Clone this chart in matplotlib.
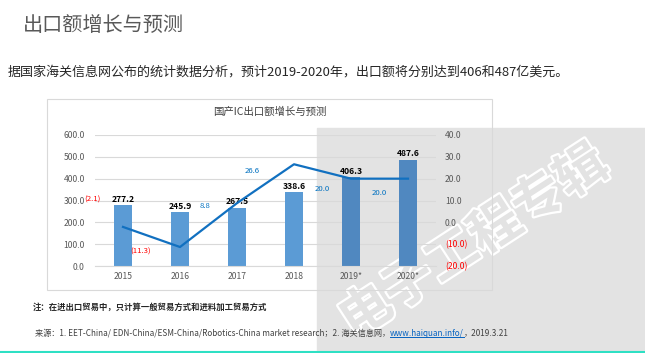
import matplotlib
matplotlib.use("Agg")
import matplotlib.pyplot as plt
from matplotlib.patches import Rectangle
from matplotlib.lines import Line2D
import matplotlib.patheffects as pe

plt.rcParams['font.family'] = ['Noto Sans CJK SC', 'DejaVu Sans']

# 数据
years = ['2015', '2016', '2017', '2018', '2019*', '2020*']
export_vals = [277.2, 245.9, 267.5, 338.6, 406.3, 487.6]
growth = [-2.1, -11.3, 8.8, 26.6, 20.0, 20.0]
growth_txt = ['(2.1)', '(11.3)', '8.8', '26.6', '20.0', '20.0']
# 增长率标签的位置（相对类别的偏移，右轴数值）
lbl_dx = [-0.54, -0.70, -0.56, -0.74, -0.51, -0.51]
lbl_y = [10.2, -13.6, 7.5, 23.5, 15.3, 13.4]
left_ticks = [0, 100, 200, 300, 400, 500, 600]
right_ticks = [-20, -10, 0, 10, 20, 30, 40]

W, H = 645, 353
fig = plt.figure(figsize=(W / 100, H / 100), dpi=100)


def px(x0, y0, x1, y1):
    # 像素坐标 -> figure坐标
    return [x0 / W, 1 - y1 / H, (x1 - x0) / W, (y1 - y0) / H]


# 灰色背景区 + 水印
bg = Rectangle((317 / W, 0), 1 - 317 / W, 1 - 128 / H, transform=fig.transFigure,
               color='#e3e3e3', zorder=-3)
fig.patches.append(bg)
wm = fig.text(474 / W, 1 - 242 / H, '电子工程专辑', fontsize=37, fontweight='bold',
              color='#e3e3e3', rotation=33, ha='center', va='center', zorder=-2,
              path_effects=[pe.Stroke(linewidth=3.2, foreground='white'), pe.Normal()])
wm.set_clip_path(bg)

# 图表外框
fig.patches.append(Rectangle((47 / W, 1 - 290 / H), (492 - 47) / W, (290 - 99) / H,
                             transform=fig.transFigure, fill=False, ec='#d9d9d9',
                             lw=0.8, zorder=-1))

# 标题和说明
fig.text(23 / W, 1 - 25 / H, '出口额增长与预测', fontsize=14.5, color='#595959', va='center')
fig.text(8 / W, 1 - 72 / H, '据国家海关信息网公布的统计数据分析，预计2019-2020年，出口额将分别达到406和487亿美元。',
         fontsize=9.4, color='#262626', va='center')
fig.text(33 / W, 1 - 307 / H, '注：在进出口贸易中，只计算一般贸易方式和进料加工贸易方式',
         fontsize=6, fontweight='bold', color='#262626', va='center')

ax = fig.add_axes(px(94.5, 135, 436.5, 266))
ax.set_facecolor('none')
x = range(len(years))
colors = ['#5b9bd5'] * 4 + ['#5088c0'] * 2
ax.bar(x, export_vals, width=0.32, color=colors, zorder=2)
for i, v in enumerate(export_vals):
    ax.text(i, v + 6, f'{v:.1f}', ha='center', va='bottom', fontsize=6.2,
            fontweight='bold', color='#000000', zorder=4)
ax.set_xlim(-0.5, len(years) - 0.5)
ax.set_ylim(0, 600)
ax.set_yticks(left_ticks)
ax.set_yticklabels([f'{t:.1f}' for t in left_ticks])
ax.set_xticks(list(x))
ax.set_xticklabels(years)
ax.grid(axis='y', color='#d9d9d9', lw=0.8, zorder=0)
ax.set_axisbelow(True)
for s in ['top', 'left', 'right']:
    ax.spines[s].set_visible(False)
ax.spines['bottom'].set_color('#d9d9d9')
ax.tick_params(axis='y', length=0, pad=7, labelsize=6.2, labelcolor='#595959')
ax.tick_params(axis='x', length=0, pad=4, labelsize=6.2, labelcolor='#595959')

ax2 = ax.twinx()
ax2.set_ylim(-20, 40)
ax2.set_yticks(right_ticks)
ax2.set_yticklabels([f'({abs(t):.1f})' if t < 0 else f'{t:.1f}' for t in right_ticks])
for t, lab in zip(right_ticks, ax2.get_yticklabels()):
    lab.set_color('#ff0000' if t < 0 else '#595959')
for s in ax2.spines.values():
    s.set_visible(False)
ax2.tick_params(axis='y', length=0, pad=6, labelsize=6.2)
ax2.plot(list(x), growth, color='#1170c0', lw=1.6, zorder=3)
for i, t in enumerate(growth_txt):
    ax2.text(i + lbl_dx[i], lbl_y[i], t, ha='center', va='center', fontsize=5.6,
             color='#ff0000' if growth[i] < 0 else '#0070c0')

fig.text(270 / W, 1 - 112 / H, '国产IC出口额增长与预测', fontsize=7.5, color='#404040',
         ha='center', va='center')

# 来源行（分段绘制，网址带下划线）
parts = [('来源：1. EET-China/ EDN-China/ESM-China/Robotics-China market research；2. 海关信息网，', '#404040', False),
         ('www.haiquan.info/', '#0563c1', True),
         ('，2019.3.21', '#404040', False)]
fig.canvas.draw()
r = fig.canvas.get_renderer()
xpos = 35
for txt, c, ul in parts:
    t = fig.text(xpos / W, 1 - 333 / H, txt, fontsize=5.9, color=c, va='center')
    bb = t.get_window_extent(renderer=r)
    if ul:
        fig.lines.append(Line2D([bb.x0 / W, bb.x1 / W], [(bb.y0 + 1) / H, (bb.y0 + 1) / H],
                                transform=fig.transFigure, color=c, lw=0.7))
    xpos = bb.x1

# 底部青色线
fig.lines.append(Line2D([0, 1], [1.5 / H, 1.5 / H], transform=fig.transFigure,
                        color='#2ee0c4', lw=1.5))

fig.savefig('out.png', dpi=100)
